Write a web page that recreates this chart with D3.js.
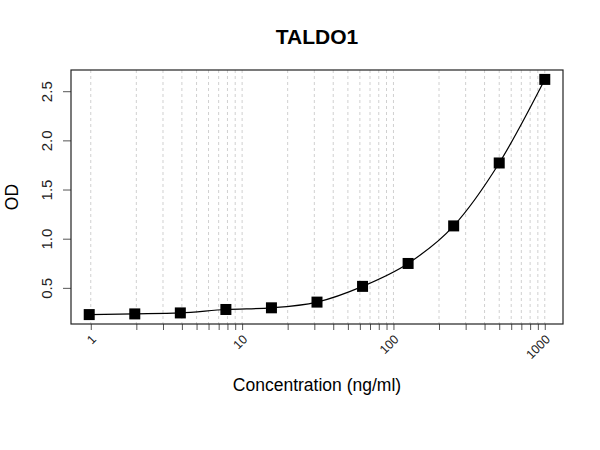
<!DOCTYPE html>
<html>
<head>
<meta charset="utf-8">
<script src="https://cdn.jsdelivr.net/npm/d3@7"></script>
<style>
  body { margin: 0; background: #fff; }
  svg { font-family: "Liberation Sans", Arial, sans-serif; }
</style>
</head>
<body>
<svg width="600" height="450"></svg>
<script>
  // standard curve data
  let concentration = [1000, 500, 250, 125, 62.5, 31.25, 15.625, 7.8125, 3.90625, 1.953125, 0.9765625];
  let od = [2.62, 1.77, 1.13, 0.748, 0.515, 0.355, 0.297, 0.28, 0.245, 0.235, 0.228];
  let xTickLabels = [1, 10, 100, 1000];
  let yTickValues = [0.5, 1.0, 1.5, 2.0, 2.5];

  let plotLeft = 71, plotRight = 563, plotTop = 70, plotBottom = 324;

  let data = concentration.map((c, i) => ({ c: c, od: od[i] }));

  // R style: pad the data range by 4% on each side
  let lx = d3.extent(concentration, (d) => Math.log10(d));
  let padX = (lx[1] - lx[0]) * 0.04;
  let x = d3.scaleLog()
      .domain([Math.pow(10, lx[0] - padX), Math.pow(10, lx[1] + padX)])
      .range([plotLeft, plotRight]);

  let ey = d3.extent(od);
  let padY = (ey[1] - ey[0]) * 0.04;
  let y = d3.scaleLinear()
      .domain([ey[0] - padY, ey[1] + padY])
      .range([plotBottom, plotTop]);

  let svg = d3.select("svg");

  // minor log ticks 1..9 x 10^k for grid + x axis
  let minor = [];
  for (let k = 0; k < 3; k++) {
    for (let m = 1; m < 10; m++) minor.push(m * Math.pow(10, k));
  }
  minor.push(1000);

  svg.append("g")
    .selectAll("line")
    .data(minor)
    .enter().append("line")
      .attr("x1", (d) => x(d))
      .attr("x2", (d) => x(d))
      .attr("y1", plotTop)
      .attr("y2", plotBottom)
      .attr("stroke", "#d0d0d0")
      .attr("stroke-width", 1)
      .attr("stroke-dasharray", "3,3");

  // x axis: ticks at every minor value, labels only at decades
  let xAxis = svg.append("g")
      .attr("transform", `translate(0, ${plotBottom})`)
      .call(d3.axisBottom(x)
        .tickValues(minor)
        .tickSize(6)
        .tickFormat(""));
  xAxis.select(".domain").remove();
  xAxis.selectAll("line").attr("stroke", "#555");

  svg.append("g")
    .selectAll("text")
    .data(xTickLabels)
    .enter().append("text")
      .attr("transform", (d) => `translate(${x(d) + 3}, ${plotBottom + 13}) rotate(-45)`)
      .attr("text-anchor", "end")
      .attr("dy", "0.35em")
      .attr("font-size", 12.5)
      .attr("fill", "#222")
      .text((d) => d);

  // y axis
  let yAxis = svg.append("g")
      .attr("transform", `translate(${plotLeft}, 0)`)
      .call(d3.axisLeft(y)
        .tickValues(yTickValues)
        .tickSize(8)
        .tickFormat(d3.format(".1f")));
  yAxis.select(".domain").remove();
  yAxis.selectAll("line").attr("stroke", "#555");
  yAxis.selectAll("text")
      .attr("font-size", 15)
      .attr("font-family", "Liberation Sans, Arial, sans-serif")
      .attr("fill", "#222")
      .attr("x", null)
      .attr("dy", null)
      .attr("text-anchor", "middle")
      .attr("transform", "translate(-19, 0) rotate(-90)")
      .attr("y", 0);

  // plot box
  svg.append("rect")
      .attr("x", plotLeft)
      .attr("y", plotTop)
      .attr("width", plotRight - plotLeft)
      .attr("height", plotBottom - plotTop)
      .attr("fill", "none")
      .attr("stroke", "#222")
      .attr("stroke-width", 1.2);

  // fitted curve
  let sorted = data.slice().sort((a, b) => a.c - b.c);
  let line = d3.line()
      .x((d) => x(d.c))
      .y((d) => y(d.od))
      .curve(d3.curveMonotoneX);

  svg.append("path")
      .datum(sorted)
      .attr("d", line)
      .attr("fill", "none")
      .attr("stroke", "#000")
      .attr("stroke-width", 1.2);

  // points
  let s = 11;
  svg.append("g")
    .selectAll("rect")
    .data(data)
    .enter().append("rect")
      .attr("x", (d) => x(d.c) - s / 2)
      .attr("y", (d) => y(d.od) - s / 2)
      .attr("width", s)
      .attr("height", s)
      .attr("fill", "#000");

  // titles
  svg.append("text")
      .attr("x", (plotLeft + plotRight) / 2)
      .attr("y", 44)
      .attr("text-anchor", "middle")
      .attr("font-size", 21)
      .attr("font-weight", "bold")
      .text("TALDO1");

  svg.append("text")
      .attr("x", (plotLeft + plotRight) / 2)
      .attr("y", 391)
      .attr("text-anchor", "middle")
      .attr("font-size", 17.5)
      .text("Concentration (ng/ml)");

  svg.append("text")
      .attr("transform", `translate(18, ${(plotTop + plotBottom) / 2}) rotate(-90)`)
      .attr("text-anchor", "middle")
      .attr("font-size", 17.5)
      .text("OD");
</script>
</body>
</html>
